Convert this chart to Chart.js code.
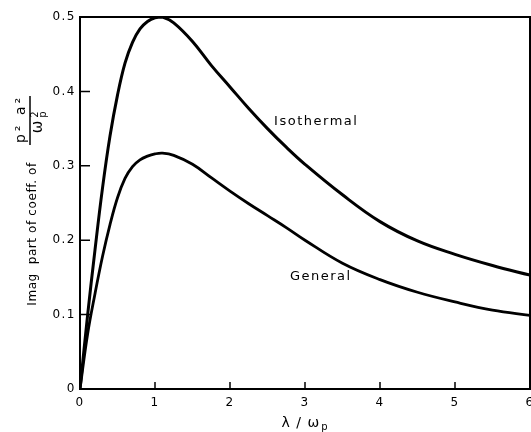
<!DOCTYPE html>
<html>
<head>
<meta charset="utf-8">
<script src="https://cdn.jsdelivr.net/npm/chart.js@4"></script>
<style>
  html, body { margin: 0; padding: 0; background: #fff; }
  #wrap { width: 531px; height: 432px; }
</style>
</head>
<body>
<div id="wrap"><canvas id="c" width="531" height="432"></canvas></div>
<script>
// ---- data ----
const xValues = [0, 0.1, 0.2, 0.3, 0.4, 0.5, 0.6, 0.7, 0.8, 0.9, 1.0, 1.1, 1.25, 1.5, 1.75, 2.0, 2.25, 2.5, 2.75, 3.0, 3.5, 4.0, 4.5, 5.0, 5.5, 6.0];
const isothermal = [0, 0.098, 0.187, 0.27, 0.34, 0.395, 0.438, 0.466, 0.484, 0.494, 0.499, 0.5, 0.492, 0.467, 0.435, 0.406, 0.377, 0.35, 0.325, 0.302, 0.261, 0.225, 0.199, 0.181, 0.166, 0.153];
const general = [0, 0.073, 0.128, 0.178, 0.221, 0.257, 0.283, 0.299, 0.308, 0.313, 0.316, 0.317, 0.314, 0.302, 0.284, 0.266, 0.249, 0.233, 0.217, 0.2, 0.169, 0.147, 0.13, 0.117, 0.106, 0.099];
const xTicks = [0, 1, 2, 3, 4, 5, 6];
const yTicks = [0, 0.1, 0.2, 0.3, 0.4, 0.5];
const seriesNames = ['Isothermal', 'General'];
const labelX = [3.15, 3.21];
const labelY = [0.359, 0.151];

const FONT = '"DejaVu Sans", Verdana, sans-serif';

function toPts(xs, ys) { return xs.map((x, i) => ({ x: x, y: ys[i] })); }

const spacing = {
  id: 'spacing',
  beforeDraw(chart) { chart.ctx.letterSpacing = '1.5px'; }
};

const decor = {
  id: 'decor',
  afterDraw(chart) {
    const ctx = chart.ctx;
    const a = chart.chartArea;
    const xs = chart.scales.x, ys = chart.scales.y;
    ctx.save();
    ctx.letterSpacing = '0px';
    // frame
    ctx.strokeStyle = '#000';
    ctx.lineWidth = 2;
    ctx.strokeRect(a.left, a.top, a.right - a.left, a.bottom - a.top);
    // inward ticks
    ctx.lineWidth = 1.5;
    ctx.beginPath();
    yTicks.forEach(v => {
      const py = ys.getPixelForValue(v);
      ctx.moveTo(a.left, py); ctx.lineTo(a.left + 10, py);
    });
    xTicks.forEach(v => {
      const px = xs.getPixelForValue(v);
      ctx.moveTo(px, a.bottom); ctx.lineTo(px, a.bottom - 7);
    });
    ctx.stroke();
    // curve labels
    ctx.fillStyle = '#000';
    ctx.font = '13px ' + FONT;
    ctx.letterSpacing = '1.5px';
    ctx.textAlign = 'center';
    ctx.textBaseline = 'middle';
    seriesNames.forEach((n, i) => {
      ctx.fillText(n, xs.getPixelForValue(labelX[i]), ys.getPixelForValue(labelY[i]));
    });
    // x title: λ / ω_p
    const midX = (a.left + a.right) / 2;
    ctx.letterSpacing = '1px';
    ctx.font = '14px ' + FONT;
    ctx.textAlign = 'left';
    ctx.textBaseline = 'alphabetic';
    const main = 'λ / ω';
    const w = ctx.measureText(main).width;
    ctx.font = '10px ' + FONT;
    const ws = ctx.measureText('p').width;
    const startX = midX - (w + ws + 1) / 2;
    ctx.font = '14px ' + FONT;
    ctx.fillText(main, startX, 427);
    ctx.font = '10px ' + FONT;
    ctx.fillText('p', startX + w + 1, 430);
    // y title (rotated)
    ctx.save();
    ctx.translate(36, 234);
    ctx.rotate(-Math.PI / 2);
    ctx.font = '12px ' + FONT;
    ctx.letterSpacing = '0.6px';
    ctx.textAlign = 'center';
    ctx.textBaseline = 'alphabetic';
    ctx.fillText('Imag  part of coeff. of', 0, 0);
    ctx.restore();
    // fraction p²a² / ω_p²
    ctx.save();
    ctx.translate(30, 121);
    ctx.rotate(-Math.PI / 2);
    ctx.textAlign = 'center';
    ctx.textBaseline = 'alphabetic';
    ctx.font = '14px ' + FONT;
    ctx.letterSpacing = '3px';
    ctx.fillText('p² a²', 2, -5);
    ctx.lineWidth = 1.5;
    ctx.beginPath();
    ctx.moveTo(-24, 0); ctx.lineTo(25, 0);
    ctx.stroke();
    ctx.letterSpacing = '0px';
    ctx.font = '15px ' + FONT;
    const wo = ctx.measureText('ω').width;
    ctx.textAlign = 'left';
    ctx.fillText('ω', -wo / 2 - 6, 12);
    ctx.font = '10px ' + FONT;
    ctx.fillText('2', wo / 2 - 3, 8);
    ctx.fillText('p', wo / 2 - 3, 16);
    ctx.restore();
    ctx.restore();
  }
};

new Chart(document.getElementById('c'), {
  type: 'scatter',
  data: {
    datasets: [
      { label: seriesNames[0], data: toPts(xValues, isothermal), showLine: true, borderColor: '#000', borderWidth: 3, pointRadius: 0, tension: 0.4, fill: false },
      { label: seriesNames[1], data: toPts(xValues, general), showLine: true, borderColor: '#000', borderWidth: 2.8, pointRadius: 0, tension: 0.4, fill: false }
    ]
  },
  options: {
    responsive: false,
    animation: false,
    devicePixelRatio: 1,
    layout: { padding: { top: 17, right: 1, left: 0, bottom: 0 } },
    plugins: { legend: { display: false }, tooltip: { enabled: false } },
    scales: {
      x: {
        type: 'linear', min: 0, max: 6,
        afterBuildTicks: s => { s.ticks = xTicks.map(v => ({ value: v })); },
        ticks: { color: '#000', padding: 7, font: { family: FONT, size: 12 }, callback: v => String(v), maxRotation: 0 },
        grid: { display: false, drawTicks: false },
        border: { display: false },
        afterFit: s => { s.height = 43; s.paddingRight = 0; s.paddingLeft = 0; }
      },
      y: {
        type: 'linear', min: 0, max: 0.5,
        afterBuildTicks: s => { s.ticks = yTicks.map(v => ({ value: v })); },
        ticks: { color: '#000', padding: 4, font: { family: FONT, size: 12 }, callback: v => (v === 0 ? '0' : v.toFixed(1)) },
        grid: { display: false, drawTicks: false },
        border: { display: false },
        afterFit: s => { s.width = 80; s.paddingTop = 0; s.paddingBottom = 0; }
      }
    }
  },
  plugins: [spacing, decor]
});
</script>
</body>
</html>
